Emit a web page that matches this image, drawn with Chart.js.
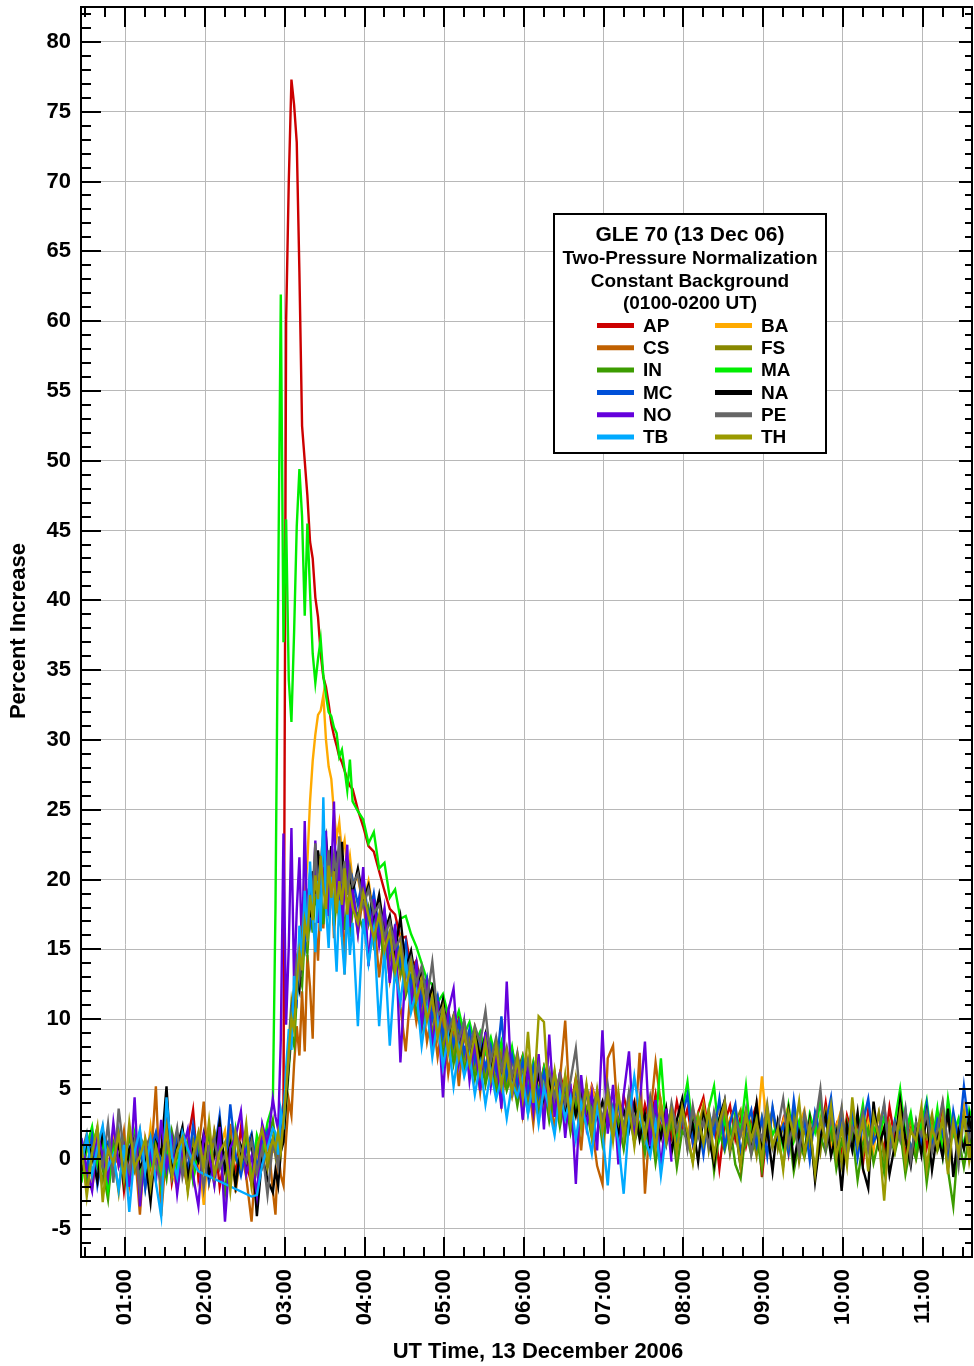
<!DOCTYPE html>
<html>
<head>
<meta charset="utf-8">
<title>GLE 70</title>
<script src="https://cdn.jsdelivr.net/npm/chart.js@4/dist/chart.umd.min.js"></script>
<style>
  html, body { margin: 0; padding: 0; background: #fff; }
  canvas { display: block; }
</style>
</head>
<body>
<canvas id="gle" width="974" height="1366"></canvas>
<script>
// sample times (minutes UT): 4-min before and after the onset, 2-min around it
const sampleSegments = [[27, 171, 4], [173, 231, 2], [235, 699, 4]];

const stations = ['AP', 'BA', 'CS', 'FS', 'IN', 'MA', 'MC', 'NA', 'NO', 'PE', 'TB', 'TH'];
const stationColors = ['#cc0000', '#ffaa00', '#c06000', '#888800', '#3c9c00', '#00ee00',
  '#0050d8', '#000000', '#6400dc', '#666666', '#00aaff', '#9a9a00'];

const hourTicks = [1, 2, 3, 4, 5, 6, 7, 8, 9, 10, 11];
const percentTicks = [-5, 0, 5, 10, 15, 20, 25, 30, 35, 40, 45, 50, 55, 60, 65, 70, 75, 80];

// percent increase per station
const AP = [
  0.8, -1.9, 1.2, -0.4, 2.1, -1.2, 0.3, 1.5, -2.3, 0.6, -0.8, 1.9, -1.5, 0.2, 1.1, -0.9, 2.4, -1.7, 0.5, -0.2,
  1.3, 3.5, -1.4, 0.7, -0.6, 1.8, -2.0, 0.4, 1.0, -1.1, 2.2, -0.3, -1.8, 0.9, 1.6, 0.2, 1.2,
  1.5, 0.8, 2.5, 4.0, 60, 70, 77.3, 75.5, 72.8, 63.5, 52.5, 50, 47.5, 44.2, 43, 40.2, 38.8, 36.2, 34.5, 33.8,
  32.6, 31.2, 30.3, 29.6, 28.8, 28.4, 27.8, 27.2, 26.7, 26.5,
  25.0, 23.8, 22.4, 22.0, 20.6, 19.2, 17.9, 17.5, 15.8, 15.9, 13.6, 14.2, 12.1, 12.9, 10.8, 11.6, 9.4, 10.7, 8.2, 10.1,
  8.8, 7.1, 9.4, 7.9, 8.6, 6.4, 8.3, 7.0, 5.6, 7.8, 6.2, 7.4, 5.1, 6.9, 4.8, 6.6, 5.3, 4.2, 6.1, 4.7,
  3.6, 5.8, 4.4, 3.1, 5.2, 3.9, 2.6, 4.8, 3.3, 1.9, 4.5, 2.8, 4.1, 1.7, 3.9, 2.4, 4.6, 2.0, 3.5, 1.6,
  4.1, 2.2, 3.6, 1.1, 3.3, 4.4, 1.8, 2.9, -0.7, 2.6, 3.8, 1.4, 3.0, 0.9, 2.7, 3.9, -1.3, 2.1, 3.4, 1.2,
  2.8, 0.4, 3.6, 1.9, 2.5, 0.7, 3.2, 1.5, 4.0, 1.0, 2.4, 0.2, 3.1, 1.7, 2.6, -0.4, 3.5, 1.3, 2.2, 0.6,
  3.7, 1.4, 2.9, 0.3, 2.3, 1.1, 3.4, 0.8, 2.5, 1.6, 3.9, 0.5, 2.7, 1.2, 3.6, 0.9, 2.4
];
const BA = [
  -0.6, 1.4, -1.3, 0.9, 0.2, -2.0, 1.7, -0.5, 0.8, -1.6, 1.1, 0.4, -0.9, 2.3, -1.2, 0.6, 1.5, -0.7, -2.1, 0.9,
  1.8, -0.3, 0.5, -3.3, 1.3, -1.0, 0.7, 2.0, -1.4, 0.3, -0.8, 1.6, -1.9, 0.1, 1.2, -0.5, 0.6,
  0.4, 1.8, 0.9, 2.6, 4.5, 7.2, 9.5, 12.0, 13.8, 15.6, 17.2, 19.0, 21.3, 25.6, 28.5, 30.4, 31.8, 32.1, 33.2, 30.0,
  28.1, 27.2, 24.8, 23.0, 24.1, 21.9, 22.8, 20.6, 21.7, 19.9,
  20.1, 18.2, 19.9, 17.4, 18.6, 16.3, 17.2, 14.8, 15.9, 13.1, 14.2, 12.0, 13.5, 10.9, 12.1, 9.8, 11.0, 8.7, 10.2, 8.1,
  9.6, 7.3, 9.0, 7.9, 6.6, 8.5, 6.9, 8.1, 5.9, 7.6, 6.3, 5.1, 7.2, 5.6, 6.8, 4.5, 6.2, 5.0, 4.1, 5.9,
  3.8, 5.3, 4.6, 3.2, 5.1, 3.9, 2.7, 4.8, 3.4, 4.2, 2.3, 4.0, 2.9, 3.8, 1.9, 3.5, 2.6, 4.1, 1.8, 3.3,
  2.4, 3.1, 1.7, 3.6, 2.2, 3.9, 1.5, 2.8, 3.4, 1.2, 2.9, 3.7, 1.6, 2.5, 3.3, 1.4, 5.9, 2.0, 3.1, 1.1,
  2.7, 3.8, 1.3, 2.4, 3.5, 0.9, 2.6, 1.8, 3.4, 1.0, 2.3, 3.6, 0.8, 2.1, 3.0, 1.2, 2.7, 0.6, 3.3, 1.9,
  2.5, 0.7, 3.2, 1.5, 2.8, 0.4, 2.2, 3.5, 1.3, 2.6, 0.9, 3.1, 1.7, 2.4, 3.8, 1.0, 2.3
];
const CS = [
  1.1, -0.8, -2.2, 0.6, 1.7, -1.5, 0.3, -0.4, 2.0, -1.9, 0.8, -4.0, 1.4, -0.6, 5.2, -4.1, 0.9, -1.2, 1.8, -0.3,
  -2.1, 1.2, 0.5, 4.1, -1.7, 0.2, 1.6, -0.9, 2.5, -2.4, 0.7, -1.3, -4.5, 1.0, -0.5, 1.9, -2.3,
  -4.0, 0.6, -1.2, -1.9, 1.5, 4.2, 3.1, 6.8, 9.5, 7.4, 12.0, 7.7, 14.6, 12.3, 8.6, 16.9, 14.2, 18.8, 16.5, 20.1,
  17.4, 21.3, 15.8, 19.6, 17.0, 20.4, 13.2, 18.7, 16.2, 19.0,
  16.1, 18.9, 14.2, 17.5, 13.0, 16.4, 12.8, 15.1, 10.9, 7.7, 12.5, 9.8, 11.9, 8.4, 10.6, 7.3, 9.9, 6.1, 8.8, 5.2,
  9.4, 6.0, 7.9, 4.8, 8.3, 5.5, 7.0, 3.9, 6.8, 4.6, 7.4, 3.2, 5.9, 2.5, 6.3, 3.6, 4.9, 2.1, 5.6, 9.9,
  2.8, 4.3, 0.6, 5.1, 2.4, -0.5, -1.8, 7.2, 8.1, 2.2, 0.9, 3.7, 1.3, 7.6, -2.5, 3.0, 6.9, 3.9, 1.6
];
const FS = [
  -1.3, 0.7, 1.9, -0.2, -1.6, 1.0, 0.4, -2.4, 1.3, 0.1, -0.9, 1.6, 0.8, -1.8, 0.3, 2.2, -0.6, 1.1, -1.0, 0.5,
  -2.2, 1.4, -0.1, 0.9, -1.5, 2.0, 0.2, -0.8, 1.2, -1.9, 0.6, 1.7, -1.1, 0.4, 2.3, -0.7, 1.5,
  0.2, 1.6, 0.7, 2.9, 5.6, 8.3, 11.2, 9.8, 13.4, 15.0, 13.9, 17.6, 16.4, 19.8, 18.5, 21.0, 19.3, 17.7, 20.9, 18.4,
  21.6, 19.0, 17.8, 20.5, 18.9, 16.9, 19.7, 18.1, 17.2, 19.3,
  17.1, 19.5, 16.8, 18.4, 15.6, 17.3, 14.2, 16.0, 13.1, 14.8, 11.6, 13.4, 10.2, 12.1, 9.0, 10.8, 8.1, 9.9, 7.5, 9.6,
  6.9, 8.8, 6.4, 8.5, 5.9, 8.0, 5.4, 7.7, 5.1, 7.3, 4.6, 6.9, 4.2, 6.6, 3.8, 6.3, 3.5, 5.9, 3.1, 5.7,
  2.6, 5.5, 2.9, 5.0, 2.2, 4.7, 2.5, 4.9, 1.9, 4.4, 2.1, 4.1, 1.6, 3.8, 1.4, 4.3, 1.8, 3.6, 1.2, 3.4,
  1.5, 3.9, 0.8, 3.1, 2.0, 3.7, 0.6, 2.9, 1.7, 3.3, 0.4, 2.6, 3.5, 1.1, 2.3, 0.2, 3.0, 1.6, 3.6, 0.7,
  2.4, 1.3, 3.2, -0.2, 2.1, 1.0, 2.9, 0.5, 3.4, 1.4, 2.2, -0.4, 2.7, 1.1, 3.1, 0.3, 2.0, 1.6, 3.3, -0.1,
  2.5, 0.9, 2.8, 1.2, 3.0, 0.1, 2.3, 1.5, 3.2, 0.6, 1.9, -0.3, 2.6, 1.3, 2.9, 0.4, 1.8
];
const IN = [
  0.4, -1.5, 0.9, 2.2, -0.7, -2.9, 1.2, 0.1, -1.1, 1.7, -0.4, 0.8, -2.0, 1.5, -0.2, 0.6, -1.4, 2.0, 0.3, -0.9,
  1.1, -1.6, 0.7, -0.3, 1.9, -1.2, 0.5, -2.5, 1.4, 0.0, -0.8, 2.1, -1.6, 0.9, -0.4, 1.3, 2.8,
  1.2, 0.4, 2.3, 1.6, 3.8, 6.4, 8.9, 8.1, 11.6, 13.2, 12.4, 15.9, 14.7, 17.8, 16.2, 19.1, 17.6, 18.9, 16.8, 19.5,
  17.9, 20.2, 16.7, 18.6, 17.3, 19.2, 16.4, 18.0, 15.9, 17.7,
  17.6, 16.4, 18.0, 15.3, 16.7, 14.1, 15.8, 12.9, 14.6, 11.7, 13.1, 10.6, 9.2, 11.5, 8.7, 10.1, 7.4, 9.3, 6.8, 8.9,
  6.2, 8.0, 5.7, 7.6, 5.3, 7.2, 4.6, 6.8, 4.9, 6.1, 3.8, 5.9, 3.3, 5.5, 3.0, 5.2, 2.7, 4.6, 2.3, 4.4,
  1.9, 4.0, 2.4, 3.6, 1.5, 3.9, 1.1, 3.2, 1.6, 2.8, 0.7, 3.4, 1.2, 2.5, 0.4, 2.9, -0.3, 2.2, 1.0, 2.7,
  -0.6, 2.0, 1.4, -0.2, 2.5, 0.8, 2.9, -0.9, 1.9, 0.6, 2.4, -0.4, -1.4, 2.1, 0.3, 1.7, -0.8, 2.6, 0.9, 1.5,
  -0.5, 2.3, -0.9, 1.2, 0.1, 2.0, -1.2, 1.6, 0.5, 2.4, -0.7, 1.3, 0.2, 1.9, -1.5, 1.1, 2.2, -0.3, 1.4, -1.0,
  1.8, 0.4, 2.1, -1.1, 1.0, 0.0, 2.3, -1.7, 1.2, 0.6, 2.0, -0.8, -3.4, 1.5, -0.6, 1.7, 0.2
];
const MA = [
  -1.7, 0.9, 2.3, -0.5, 1.0, -2.2, 0.6, 1.4, -0.8, 0.2, 1.9, -1.3, 0.7, -0.4, 1.6, -2.0, 0.3, 1.2, -0.9, 2.0,
  0.5, -1.5, 1.1, -0.2, 0.8, -1.8, 1.5, 0.0, -1.0, 2.1, -0.6, 0.9, -1.4, 1.7, 0.4, 2.6, 3.9,
  18.0, 40.5, 61.9, 37.0, 45.8, 34.3, 31.3, 37.7, 45.3, 49.4, 46.0, 38.9, 45.5, 40.6, 36.2, 34.1, 35.8, 37.2, 34.6, 33.2,
  32.0, 31.7, 30.9, 30.5, 28.8, 29.3, 27.9, 26.4, 28.6, 25.6,
  24.9, 24.3, 22.6, 23.4, 20.8, 21.2, 18.7, 19.3, 17.2, 17.4, 16.1, 15.2, 14.0, 12.8, 12.5, 11.2, 11.8, 10.3, 9.4, 10.6,
  8.9, 9.8, 8.2, 9.1, 7.6, 8.7, 7.0, 8.4, 6.1, 8.0, 5.6, 7.3, 5.0, 6.9, 4.7, 6.5, 4.1, 6.2, 3.8, 5.8,
  3.2, 5.4, 2.9, 5.1, 3.5, 4.7, 2.4, 4.9, 2.8, 4.3, 2.1, 4.6, 2.7, 3.9, 1.8, 4.2, 2.3, 7.2, 2.0, 3.7,
  1.6, 3.4, 5.5, 1.9, 3.1, 0.9, 3.6, 5.2, 1.4, 2.8, 0.7, 3.3, 2.0, 5.2, 1.2, 2.9, 0.5, 3.5, 1.7, 2.6,
  0.8, 3.8, 1.3, 2.7, 0.4, 3.2, 1.9, 4.1, 0.9, 2.5, 1.4, 3.4, 0.2, 2.8, 1.6, 3.9, 0.7, 2.3, 1.5, 3.0,
  0.6, 2.7, 5.0, 1.8, 3.3, 0.9, 2.5, 4.2, 1.1, 3.6, 0.3, 4.3, 1.7, 2.9, 0.8, 3.5, 2.1
];
const MC = [
  0.5, -0.7, 1.6, -1.9, 0.3, 1.2, -0.4, 2.0, -1.1, 0.8, -0.2, 1.4, -2.1, 0.6, 1.9, -0.5, 0.2, -1.3, 1.7, 0.9,
  -0.8, 2.4, -0.1, 1.0, -1.6, 0.4, 3.1, -0.9, 3.9, 0.3, -1.2, 0.7, 1.8, -0.6, 1.1, 2.0, 0.8,
  1.4, 0.6, 2.1, 3.5, 5.9, 7.6, 10.4, 12.1, 11.3, 14.6, 16.0, 15.1, 18.3, 17.0, 20.4, 18.8, 21.5, 19.6, 22.3, 20.1,
  18.7, 21.2, 19.9, 22.0, 18.6, 20.7, 19.2, 21.4, 18.3, 20.0,
  18.2, 20.3, 17.1, 19.0, 16.4, 17.8, 15.0, 16.6, 13.9, 15.5, 12.3, 14.0, 11.2, 12.9, 10.0, 11.6, 8.8, 10.5, 8.2, 9.8,
  7.6, 9.3, 7.0, 8.6, 6.5, 8.1, 6.3, 10.2, 5.9, 7.4, 5.3, 7.0, 4.8, 6.6, 4.5, 6.2, 3.9, 5.8, 3.6, 5.5,
  3.3, 5.0, 2.9, 4.8, 2.6, 4.4, 2.2, 4.5, 2.5, 3.9, 1.8, 4.2, 2.0, 3.6, 1.5, 3.9, 1.7, 3.3, 1.1, 3.6,
  0.6, 3.0, 4.6, 1.2, 2.8, 0.3, 3.4, 1.8, 4.3, 0.9, 2.6, 3.9, 0.4, 2.2, 3.5, 1.0, 2.9, 0.2, 3.7, 1.5,
  2.4, 0.5, 4.2, 1.3, 2.8, -0.1, 3.3, 1.7, 2.5, 4.4, 0.8, 2.9, 1.4, 3.6, 0.1, 2.6, 4.3, 1.2, 2.0, 3.8,
  0.5, 2.7, 1.6, 3.5, 0.3, 2.4, 1.1, 3.9, 0.7, 2.8, 1.9, -0.2, 3.4, 1.3, 5.2, 2.1, 0.9
];
const NA = [
  -0.9, 1.3, 0.2, -1.6, 2.0, 0.5, -0.3, 1.1, -1.8, 0.7, 1.5, -0.6, 0.1, -3.1, 1.2, 0.4, 5.2, -1.0, 0.8, 2.3,
  -1.4, 0.6, -0.2, 1.8, -1.1, 0.3, 2.6, -0.7, 1.0, -1.9, 0.9, -0.4, 1.4, -4.1, 0.2, -1.5, -2.4,
  -0.8, -1.9, 0.5, 1.2, 4.3, 6.8, 9.4, 11.2, 12.9, 12.1, 15.4, 16.8, 18.7, 17.3, 20.6, 19.0, 22.1, 20.4, 21.8, 23.0,
  20.7, 22.4, 19.8, 21.5, 20.2, 22.7, 19.4, 21.0, 20.3, 19.1,
  20.8, 18.5, 19.6, 17.0, 18.9, 16.2, 17.4, 14.9, 17.3, 13.6, 14.9, 12.4, 13.5, 11.0, 12.3, 9.9, 11.4, 8.7, 10.2, 8.4,
  9.7, 7.5, 9.1, 7.2, 8.9, 6.4, 8.2, 6.0, 7.6, 5.5, 7.3, 5.0, 6.4, 4.6, 6.0, 4.2, 5.7, 3.9, 5.3, 3.5,
  4.9, 3.1, 4.7, 2.6, 4.4, 2.9, 4.1, 2.3, 3.8, 1.7, 3.5, 2.0, 3.9, 1.4, 3.2, 0.8, 3.0, 1.5, 3.6, 0.4,
  2.8, 4.3, 1.0, 2.5, -0.2, 3.1, 1.6, -0.4, 2.9, 4.2, 0.7, 2.3, -0.6, 3.0, 1.3, 4.0, 0.5, 2.1, -0.9, 2.7,
  1.1, 3.5, -0.3, 1.9, 0.4, 2.8, -1.6, 1.5, 3.1, 0.2, 1.8, -2.3, 2.4, 0.6, 3.3, -0.7, -2.1, 4.1, 0.9, 2.2,
  -1.1, 1.0, 4.2, 1.4, -0.5, 2.6, 0.3, 3.2, -0.8, 1.9, 0.1, 3.6, -1.3, 2.0, 0.7, 3.0, -0.4
];
const NO = [
  1.5, -0.8, -2.3, 1.9, 0.2, -1.4, 2.6, -0.5, 0.9, -2.0, 4.4, -3.4, 1.1, 0.3, -1.6, 2.8, -0.7, 1.4, -2.5, 0.6,
  2.1, -1.2, -3.4, 1.7, 0.4, -1.9, 2.3, -4.5, 0.8, 1.6, 3.4, -1.1, 0.2, -2.6, 2.5, 1.0, 4.3,
  3.0, 2.1, 8.5, 23.3, 9.6, 15.2, 23.7, 12.4, 17.8, 21.6, 14.5, 24.2, 16.3, 20.5, 18.2, 22.8, 16.9, 21.4, 19.1, 23.5,
  17.4, 20.3, 25.6, 18.0, 21.7, 15.9, 19.8, 22.5, 16.6, 19.3,
  16.2, 20.9, 13.8, 18.6, 15.3, 17.9, 12.6, 16.8, 6.9, 14.0, 11.2, 13.9, 9.6, 12.4, 8.0, 11.3, 4.4, 10.6, 12.2, 6.9,
  9.8, 5.6, 8.5, 4.9, 9.1, 5.2, 7.8, 3.6, 12.7, 4.4, 7.1, 2.8, 6.6, 3.4, 7.5, 2.1, 8.9, 3.0, 6.2, 1.5,
  5.4, -1.8, 6.0, 2.3, 4.7, 0.6, 9.2, 1.8, 5.3, -0.4, 4.6, 7.7, 1.2, 3.9, 8.4, 0.9, 4.2, -0.7, 3.6, -0.2
];
const PE = [
  0.3, 1.8, -1.2, 0.6, -0.5, 2.5, -1.7, 3.6, 0.4, -0.9, 1.3, -2.2, 0.8, 1.6, -0.3, -1.8, 1.0, 0.2, 2.2, -1.3,
  0.5, -0.6, 1.7, -2.1, 0.9, 1.4, -0.7, 0.3, -1.5, 2.0, 0.6, -0.2, 1.3, -1.0, 0.7, -2.6, 1.1,
  0.4, -0.6, 1.7, 2.4, 5.1, 7.0, 9.8, 11.9, 14.2, 13.0, 16.5, 18.1, 17.2, 20.3, 19.1, 22.6, 18.4, 21.2, 23.4, 20.0,
  22.1, 19.3, 21.6, 20.4, 23.1, 19.7, 21.3, 18.9, 20.8, 19.6,
  20.4, 18.1, 19.3, 17.6, 18.2, 15.9, 17.0, 15.1, 15.8, 13.3, 14.4, 12.6, 13.8, 11.4, 14.1, 10.2, 10.9, 9.0, 10.3, 8.5,
  9.9, 7.8, 9.5, 8.3, 10.6, 7.0, 8.7, 6.4, 8.0, 5.9, 7.6, 5.5, 7.1, 4.9, 6.7, 4.6, 6.3, 4.3, 6.0, 3.9,
  5.6, 7.9, 3.5, 5.2, 3.0, 4.9, 2.7, 5.3, 2.4, 4.5, 2.0, 4.8, 2.6, 3.7, 1.6, 4.4, 2.2, 3.5, 1.3, 4.0,
  2.0, 3.1, 0.7, 3.8, 1.5, 2.7, 0.9, 3.4, 1.8, 4.1, 0.6, 2.9, 1.7, 3.6, 0.3, 2.5, 1.4, 3.9, 0.8, 2.2,
  4.3, 1.0, 2.6, 0.4, 3.3, 1.6, 2.4, 5.0, 0.7, 2.9, 1.2, 3.7, 0.0, 2.3, 1.5, 3.4, 0.6, 2.8, 1.9, 4.0,
  0.3, 2.5, 1.3, 3.6, -0.1, 2.6, 1.7, 3.3, 0.5, 2.1, 4.1, 0.9, 2.7, -0.5, 3.1, 1.4, 2.8
];
const TB = [
  -0.4, 1.6, -1.1, 0.8, 2.4, -0.6, 0.3, -2.2, 1.0, -3.8, 0.5, 2.1, -0.9, 1.4, -1.7, -4.1, 4.4, 0.2, -1.3, 1.9,
  0.7, -0.2, -0.9, null, null, null, null, null, null, null, null, null, -2.7, -2.6, -0.4, 0.8, 2.2,
  1.9, 0.3, 3.4, 2.1, 6.5, 9.3, 7.8, 13.1, 11.4, 16.7, 14.0, 19.2, 15.6, 21.3, 17.4, 14.8, 19.9, 16.3, 25.9, 18.0,
  15.1, 20.2, 16.8, 13.4, 18.5, 15.7, 13.2, 17.9, 14.6, 16.9,
  9.5, 17.2, 14.0, 16.5, 9.5, 15.1, 8.1, 13.7, 11.2, 14.3, 10.5, 12.0, 8.1, 10.8, 7.3, 9.9, 6.6, 8.7, 5.2, 8.0,
  5.9, 7.4, 4.6, 6.8, 3.9, 6.3, 4.3, 5.7, 2.9, 5.4, 4.5, 5.8, 3.2, 5.6, 2.5, 5.1, 3.6, 1.7, 4.8, 2.9,
  4.4, 1.4, 4.0, 2.3, 0.4, 3.7, 1.9, -1.9, 3.4, 1.2, -2.5, 2.8, 5.9, 3.2, 1.5, 0.2, 2.6, -1.2, 1.8
];
const TH = [
  1.0, -2.7, 0.4, 2.3, -3.1, 0.7, -0.3, 1.8, -1.5, 2.6, -0.6, 0.2, 1.4, -2.0, 0.9, -0.8, 2.2, -1.3, 0.6, 1.5,
  -2.4, 0.3, 1.9, -0.7, 2.7, -1.2, 0.5, 1.2, -2.3, 1.7, -0.4, 2.5, -1.9, 0.8, 2.1, 0.0, 1.4,
  0.8, 1.9, 0.5, 2.7, 4.9, 7.7, 10.1, 9.2, 12.6, 14.8, 13.5, 17.0, 15.8, 18.9, 17.1, 20.3, 18.6, 21.7, 19.4, 17.9,
  21.0, 18.7, 20.6, 17.6, 19.9, 18.2, 20.8, 17.5, 19.2, 18.0,
  16.9, 19.1, 17.4, 15.8, 17.5, 14.9, 16.3, 13.4, 15.2, 12.1, 14.0, 11.3, 12.8, 9.9, 11.6, 8.7, 10.8, 7.6, 9.9, 7.2,
  9.1, 6.8, 8.9, 6.1, 8.4, 5.7, 8.1, 5.2, 7.6, 4.7, 7.2, 4.4, 9.1, 4.0, 10.2, 9.8, 3.6, 6.3, 3.0, 6.0,
  2.5, 5.7, 2.2, 5.3, 1.7, 4.9, 2.0, 4.6, 1.3, 4.8, 1.6, 3.9, 0.9, 4.2, 1.5, 3.6, 0.7, 3.9, 1.2, 3.3,
  0.4, 3.7, 1.9, -0.3, 3.0, 1.1, 3.5, 0.2, 2.6, 4.0, 0.8, 2.4, -0.6, 3.2, 1.4, 2.8, -0.2, 3.6, 0.9, 2.1,
  -0.8, 3.3, 1.6, 4.1, 0.3, 2.5, -1.0, 2.9, 1.2, 3.8, 0.1, 2.2, -0.5, 4.4, 1.0, 2.7, -0.9, 3.1, 1.5, -3.0,
  2.4, 0.6, 3.4, -0.4, 2.0, 1.3, 3.7, -0.7, 2.3, 0.8, 3.0, -1.1, 2.5, 0.4, 3.2, -0.2, 1.9
];

const seriesValues = { AP, BA, CS, FS, IN, MA, MC, NA, NO, PE, TB, TH };

const sampleMinutes = [];
for (const [from, to, step] of sampleSegments) {
  for (let m = from; m <= to; m += step) sampleMinutes.push(m);
}

const FONT = '"Liberation Sans", Arial, Helvetica, sans-serif';
Chart.defaults.font.family = FONT;
Chart.defaults.font.weight = 'bold';
Chart.defaults.color = '#000';

const datasets = stations.map((name, i) => ({
  label: name,
  data: seriesValues[name].map((v, j) => ({ x: sampleMinutes[j] / 60, y: v })),
  borderColor: stationColors[i],
  backgroundColor: stationColors[i],
  borderWidth: 2.4,
  pointRadius: 0,
  tension: 0,
  spanGaps: true,
  order: stations.length - i
}));

// inward ticks on all four sides, frame, axis titles and the legend box
const frameAndLegend = {
  id: 'frameAndLegend',
  afterDraw(chart) {
    const { ctx, chartArea: a, scales: { x, y } } = chart;
    ctx.save();
    ctx.strokeStyle = '#000';
    ctx.lineWidth = 2;
    ctx.beginPath();
    for (let m = 30; m <= 690; m += 15) {
      const px = Math.round(x.getPixelForValue(m / 60));
      const len = m % 60 === 0 ? 20 : 10;
      ctx.moveTo(px, a.bottom); ctx.lineTo(px, a.bottom - len);
      ctx.moveTo(px, a.top); ctx.lineTo(px, a.top + len);
    }
    for (let v = -6; v <= 82; v++) {
      const py = Math.round(y.getPixelForValue(v));
      const big = v % 5 === 0;
      ctx.moveTo(a.left, py); ctx.lineTo(a.left + (big ? 20 : 10), py);
      ctx.moveTo(a.right, py); ctx.lineTo(a.right - (big ? 13 : 7), py);
    }
    ctx.stroke();
    ctx.strokeRect(a.left, a.top, a.right - a.left, a.bottom - a.top);

    // axis titles
    ctx.fillStyle = '#000';
    ctx.font = 'bold 22px ' + FONT;
    ctx.textAlign = 'center';
    ctx.textBaseline = 'middle';
    ctx.fillText('UT Time, 13 December 2006', 538, 1352);
    ctx.save();
    ctx.translate(19, 631);
    ctx.rotate(-Math.PI / 2);
    ctx.fillText('Percent Increase', 0, 0);
    ctx.restore();

    // legend box
    const bx = 554, by = 214, bw = 272, bh = 239;
    ctx.fillStyle = '#fff';
    ctx.fillRect(bx, by, bw, bh);
    ctx.strokeRect(bx, by, bw, bh);
    ctx.fillStyle = '#000';
    ctx.textBaseline = 'alphabetic';
    ctx.font = 'bold 21px ' + FONT;
    ctx.fillText('GLE 70 (13 Dec 06)', 690, 241);
    ctx.font = 'bold 19px ' + FONT;
    ctx.fillText('Two-Pressure Normalization', 690, 264);
    ctx.fillText('Constant Background', 690, 287);
    ctx.fillText('(0100-0200 UT)', 690, 309);

    ctx.textAlign = 'left';
    ctx.textBaseline = 'middle';
    ctx.lineWidth = 5;
    stations.forEach((name, i) => {
      const col = i % 2, row = Math.floor(i / 2);
      const ly = 325.5 + row * 22.3;
      const lx = col === 0 ? 597 : 715;
      ctx.strokeStyle = stationColors[i];
      ctx.beginPath();
      ctx.moveTo(lx, ly); ctx.lineTo(lx + 37, ly);
      ctx.stroke();
      ctx.fillText(name, lx + 46, ly + 1);
    });
    ctx.restore();
  }
};

new Chart(document.getElementById('gle'), {
  type: 'line',
  data: { datasets },
  options: {
    responsive: false,
    animation: false,
    devicePixelRatio: 1,
    layout: { padding: { top: 7, right: 2, left: 0, bottom: 0 } },
    plugins: { legend: { display: false }, tooltip: { enabled: false } },
    scales: {
      x: {
        type: 'linear',
        min: 0.4444,
        max: 11.618,
        afterBuildTicks: (scale) => { scale.ticks = hourTicks.map(v => ({ value: v })); },
        afterFit: (scale) => {
          scale.height = 109;
          scale.paddingLeft = 0; scale.paddingRight = 0;
        },
        grid: { color: '#b8b8b8', lineWidth: 1, drawTicks: false },
        border: { display: false },
        ticks: {
          autoSkip: false,
          minRotation: 90,
          maxRotation: 90,
          padding: 12,
          font: { size: 22, weight: 'bold' },
          callback: (v) => String(v).padStart(2, '0') + ':00'
        }
      },
      y: {
        min: -7.03,
        max: 82.5,
        afterBuildTicks: (scale) => { scale.ticks = percentTicks.map(v => ({ value: v })); },
        afterFit: (scale) => {
          scale.width = 81;
          scale.paddingTop = 0; scale.paddingBottom = 0;
        },
        grid: { color: '#b8b8b8', lineWidth: 1, drawTicks: false },
        border: { display: false },
        ticks: {
          padding: 10,
          font: { size: 22, weight: 'bold' }
        }
      }
    }
  },
  plugins: [frameAndLegend]
});
</script>
</body>
</html>
